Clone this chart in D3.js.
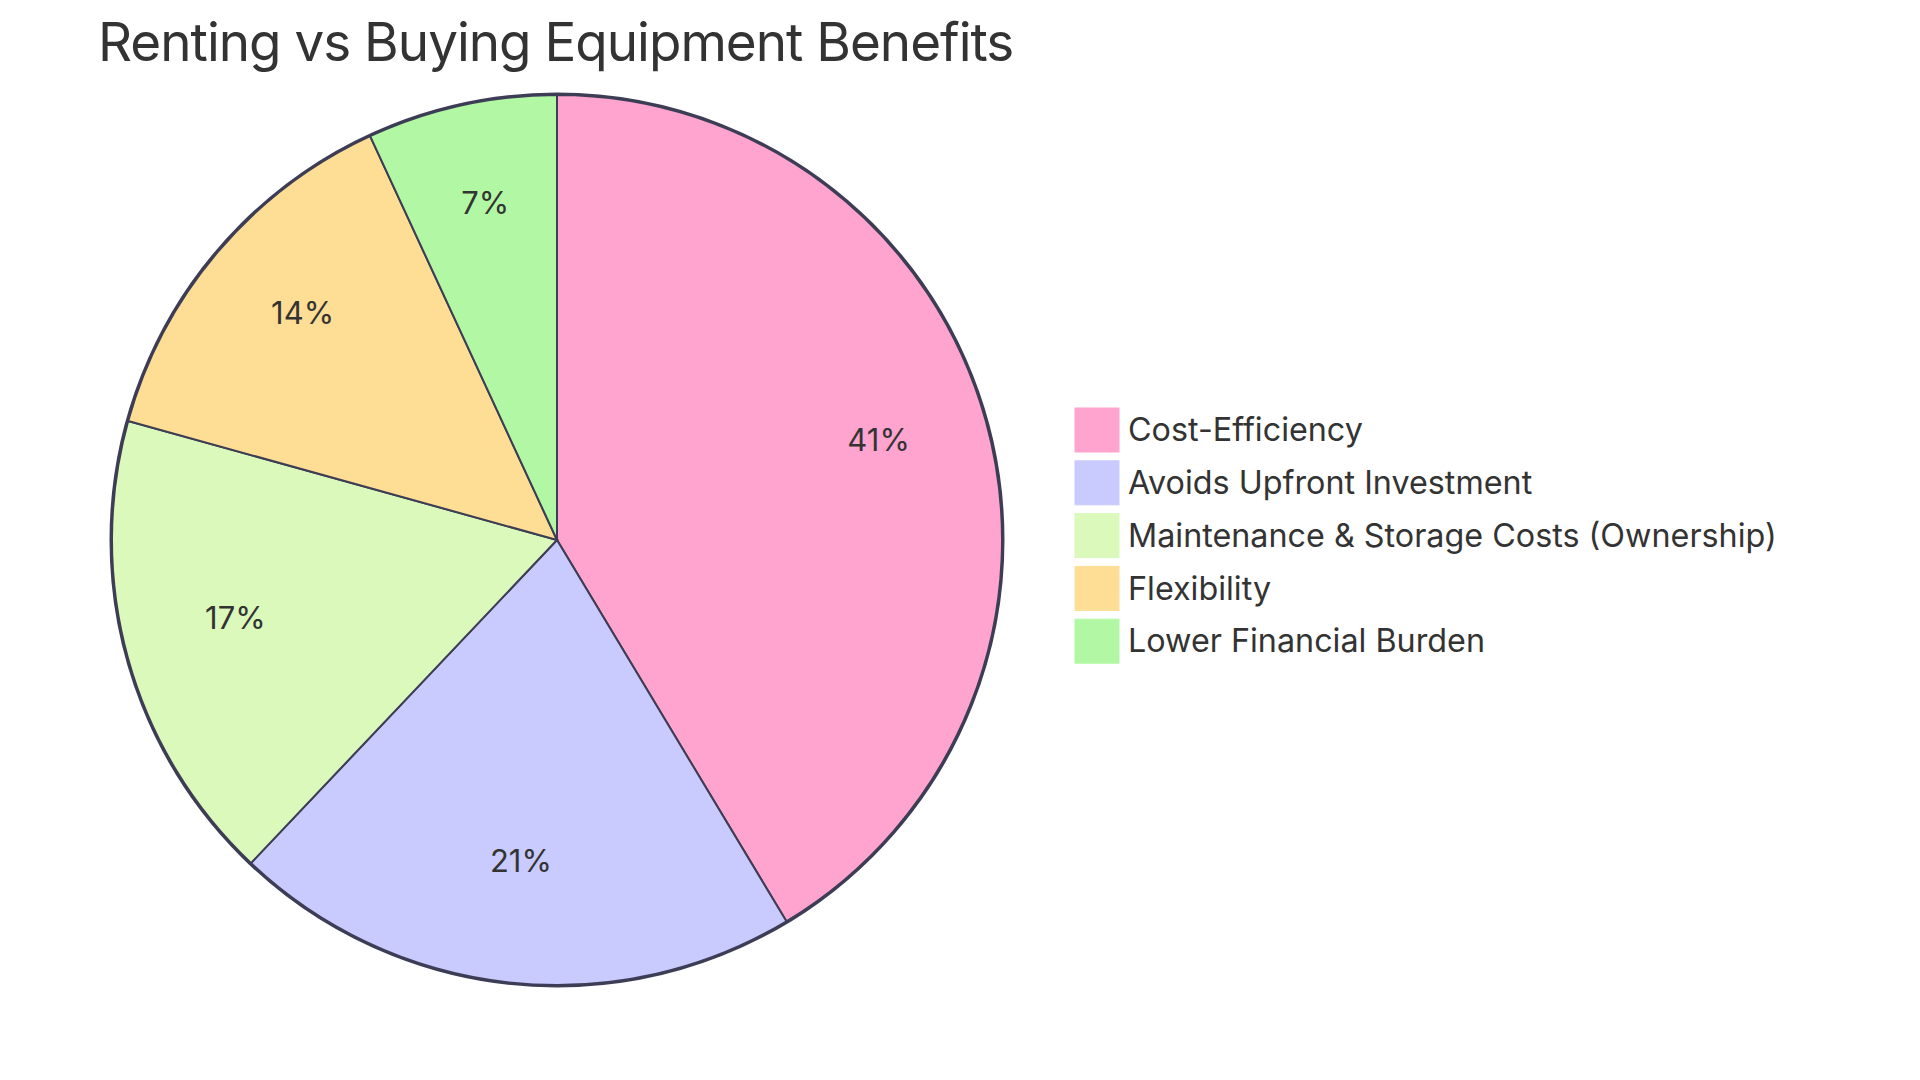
<html>
<head>
<script src="https://d3js.org/d3.v7.min.js"></script>
<style>
  body { margin: 0; background: #fff; }
  text { font-family: Inter, "Open Sans", sans-serif; fill: #333; }
</style>
</head>
<body>
<div id="chart"></div>
<script>
// data (slice angles fit 12/6/5/4/2 of 29)
var labels = ["Cost-Efficiency", "Avoids Upfront Investment", "Maintenance & Storage Costs (Ownership)", "Flexibility", "Lower Financial Burden"];
var values = [12, 6, 5, 4, 2];
var colors = ["#FFA3CF", "#C9CAFE", "#DAF9BB", "#FEDD94", "#B2F8A4"];
var title = "Renting vs Buying Equipment Benefits";

var W = 1920, H = 1080;
var cx = 557, cy = 540, r = 445;

var svg = d3.select("#chart").append("svg")
    .attr("width", W).attr("height", H);

svg.append("text")
    .attr("x", 98).attr("y", 61)
    .style("font-size", "53px")
    .style("letter-spacing", "-1px")
    .text(title);

var data = labels.map(function (d, i) { return { label: d, value: values[i], color: colors[i] }; });

var pie = d3.pie().sort(null).value(function (d) { return d.value; });
var arc = d3.arc().innerRadius(0).outerRadius(r);
var labelArc = d3.arc().innerRadius(r * 0.75).outerRadius(r * 0.75);
var total = d3.sum(values);

var g = svg.append("g").attr("transform", "translate(" + cx + "," + cy + ")");

g.append("circle").attr("r", r + 1)
    .attr("fill", "none").attr("stroke", "#3d3d56").attr("stroke-width", 3);

g.selectAll("path.slice").data(pie(data)).enter().append("path")
    .attr("class", "slice")
    .attr("d", arc)
    .attr("fill", function (d) { return d.data.color; })
    .attr("stroke", "#3d3d56")
    .attr("stroke-width", 2);

// labels sit on the centroid baseline, as in the original
g.selectAll("text.pct").data(pie(data)).enter().append("text")
    .attr("class", "pct")
    .attr("transform", function (d) { return "translate(" + labelArc.centroid(d) + ")"; })
    .attr("text-anchor", "middle")
    .style("font-size", "31px")
    .text(function (d) { return Math.round(d.data.value / total * 100) + "%"; });

var legend = svg.append("g").attr("transform", "translate(1075,408)");
var rows = legend.selectAll("g").data(data).enter().append("g")
    .attr("transform", function (d, i) { return "translate(0," + (i * 52.8) + ")"; });
rows.append("rect")
    .attr("width", 44).attr("height", 44)
    .attr("fill", function (d) { return d.color; })
    .attr("stroke", function (d) { return d.color; });
rows.append("text")
    .attr("x", 53).attr("y", 22).attr("dy", "0.35em")
    .style("font-size", "32.3px")
    .text(function (d) { return d.label; });
</script>
</body>
</html>
